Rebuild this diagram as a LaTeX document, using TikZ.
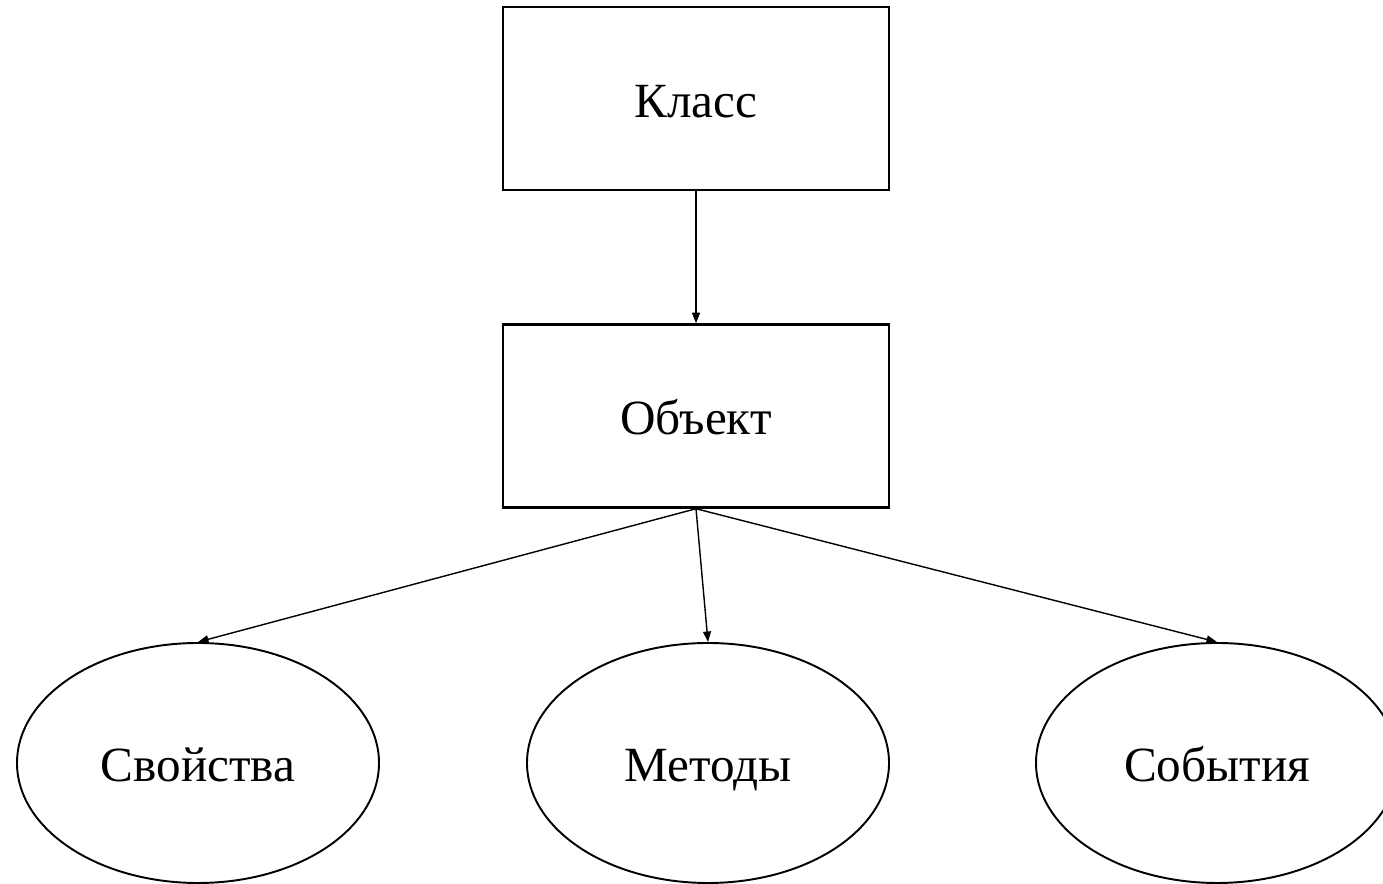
\documentclass[tikz,border=0pt]{standalone}
\usepackage{fontspec}
\setmainfont{Liberation Serif}
\usetikzlibrary{arrows.meta,positioning,shapes.geometric}

\begin{document}
\begin{tikzpicture}[on grid,>={Triangle[length=6pt,width=4.5pt]},
	every node/.style={font=\fontsize{28}{32}\selectfont,text height=0.76cm,text depth=0pt},
	box/.style={draw,rectangle,line width=1.4pt,minimum width=7.72cm,minimum height=3.66cm},
	oval/.style={draw,ellipse,line width=1.1pt,minimum width=7.24cm,minimum height=4.8cm}]
			\useasboundingbox (0,0) rectangle (27.66,17.68);
			\node[box] (cls) at (13.92,15.71) {Класс};
			\node[box] (obj) [below=6.35cm of cls] {Объект};
			\node[oval] (prop) [below left=6.94cm and 9.96cm of obj] {Свойства};
			\node[oval] (meth) [below right=6.94cm and 0.24cm of obj] {Методы};
			\node[oval] (evt)  [below right=6.94cm and 10.42cm of obj] {События};

			\path[->,line width=0.8pt] (cls) edge (obj)
					  (obj.south) edge (prop.north)
					  (obj.south) edge (meth.north)
					  (obj.south) edge (evt.north);

\end{tikzpicture}
\end{document}
